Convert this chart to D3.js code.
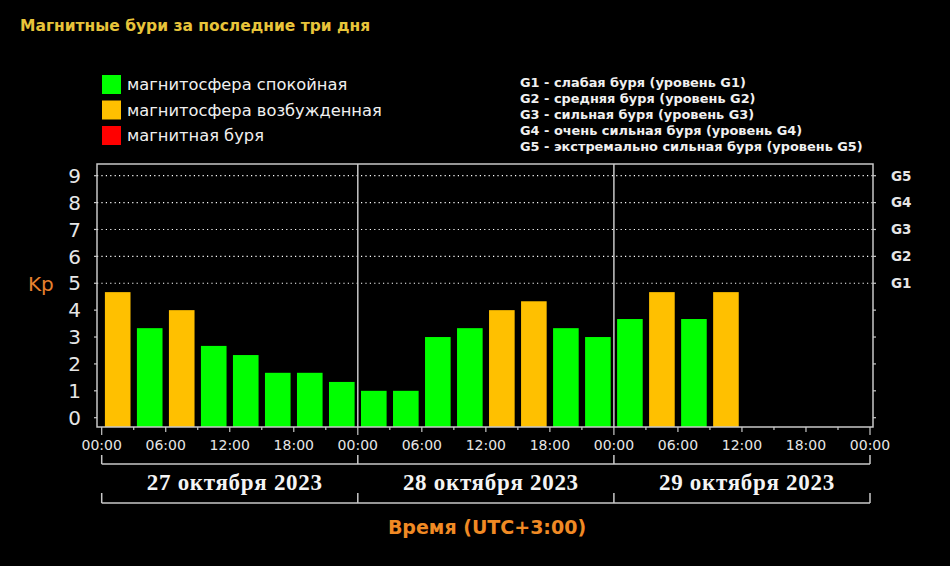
<!DOCTYPE html>
<html><head><meta charset="utf-8">
<script src="https://cdn.jsdelivr.net/npm/d3@7"></script>
<style>
html,body{margin:0;padding:0;background:#000;}
svg{display:block;}
</style></head>
<body>
<svg id="chart" width="950" height="566"></svg>
<script>
// ---- data ----
const title = "Магнитные бури за последние три дня";
const days = ["27 октября 2023", "28 октября 2023", "29 октября 2023"];
const slotHours = [0,3,6,9,12,15,18,21,24,27,30,33,36,39,42,45,48,51,54,57];
const kpValues = [4.67,3.33,4.0,2.67,2.33,1.67,1.67,1.33, 1.0,1.0,3.0,3.33,4.0,4.33,3.33,3.0, 3.67,4.67,3.67,4.67];
const yTicks = [0,1,2,3,4,5,6,7,8,9];
const gLevels = [{k:5,label:"G1"},{k:6,label:"G2"},{k:7,label:"G3"},{k:8,label:"G4"},{k:9,label:"G5"}];
const xTickLabels = ["00:00","06:00","12:00","18:00"];
const legendLeft = [
  {label:"магнитосфера спокойная", color:"#00ff00"},
  {label:"магнитосфера возбужденная", color:"#ffc000"},
  {label:"магнитная буря", color:"#ff0000"}
];
const legendRight = [
  "G1 - слабая буря (уровень G1)",
  "G2 - средняя буря (уровень G2)",
  "G3 - сильная буря (уровень G3)",
  "G4 - очень сильная буря (уровень G4)",
  "G5 - экстремально сильная буря (уровень G5)"
];
const xAxisTitle = "Время (UTC+3:00)";
const yAxisTitle = "Kp";

// ---- layout ----
const svg = d3.select("#chart");
svg.append("rect").attr("width",950).attr("height",566).attr("fill","#000");
const frame = {left:97, right:873, top:164, bottom:427};
const x = d3.scaleLinear().domain([0,72]).range([101.7,870]);
const y = d3.scaleLinear().domain([0,9]).range([417.7,175.7]);
const lineCol = "#c8c8c8";
const textCol = "#e6e6e6";
function barColor(v){ return v>=5 ? "#ff0000" : (v>=4 ? "#ffc000" : "#00ff00"); }

// title
svg.append("text").attr("x",20).attr("y",31).text(title)
  .attr("fill","#e8c43a").attr("font-family","DejaVu Sans").attr("font-weight","bold").attr("font-size",15.5);

// left legend
const lg = svg.append("g");
legendLeft.forEach((d,i)=>{
  lg.append("rect").attr("x",102).attr("y",75+i*25.5).attr("width",19).attr("height",19).attr("fill",d.color);
  lg.append("text").attr("x",127).attr("y",90+i*25.5).text(d.label)
    .attr("fill","#f0f0f0").attr("font-family","DejaVu Sans").attr("font-size",16.3);
});
// right legend
legendRight.forEach((t,i)=>{
  svg.append("text").attr("x",520).attr("y",87+i*16).text(t)
    .attr("fill","#f0f0f0").attr("font-family","DejaVu Sans").attr("font-weight","bold").attr("font-size",12.9);
});

// gridlines
svg.append("g").selectAll("line").data(gLevels).join("line")
  .attr("x1",frame.left).attr("x2",frame.right+3)
  .attr("y1",d=>y(d.k)).attr("y2",d=>y(d.k))
  .attr("stroke","#ffffff").attr("stroke-width",1.2).attr("stroke-dasharray","1.2,3.2");

// bars
svg.append("g").selectAll("rect").data(slotHours.map((h,i)=>({h,v:kpValues[i]}))).join("rect")
  .attr("x",d=>x(d.h+0.3)).attr("width",d=>x(d.h+2.7)-x(d.h+0.3))
  .attr("y",d=>y(d.v)).attr("height",d=>frame.bottom-y(d.v))
  .attr("fill",d=>barColor(d.v));

// frame
svg.append("rect").attr("x",frame.left).attr("y",frame.top)
  .attr("width",frame.right-frame.left).attr("height",frame.bottom-frame.top)
  .attr("fill","none").attr("stroke",lineCol).attr("stroke-width",1.5);
// day separators
[24,48].forEach(h=>{
  svg.append("line").attr("x1",x(h)).attr("x2",x(h)).attr("y1",frame.top).attr("y2",frame.bottom)
    .attr("stroke",lineCol).attr("stroke-width",1.5);
});

// y ticks left
svg.append("g").selectAll("line").data(yTicks).join("line")
  .attr("x1",frame.left-3).attr("x2",frame.left).attr("y1",d=>y(d)).attr("y2",d=>y(d))
  .attr("stroke",lineCol).attr("stroke-width",1.2);
// y ticks right
svg.append("g").selectAll("line").data(yTicks).join("line")
  .attr("x1",frame.right).attr("x2",frame.right+3).attr("y1",d=>y(d)).attr("y2",d=>y(d))
  .attr("stroke",lineCol).attr("stroke-width",1.2);
// y labels
svg.append("g").selectAll("text").data(yTicks).join("text")
  .attr("x",81).attr("y",d=>y(d)).attr("dy","0.36em").attr("text-anchor","end").text(d=>d)
  .attr("fill",textCol).attr("font-family","DejaVu Sans").attr("font-size",20);
// Kp
svg.append("text").attr("x",28).attr("y",291).text(yAxisTitle)
  .attr("fill","#e8812e").attr("font-family","DejaVu Sans").attr("font-size",20);
// G labels
svg.append("g").selectAll("text").data(gLevels).join("text")
  .attr("x",891).attr("y",d=>y(d.k)).attr("dy","0.36em").text(d=>d.label)
  .attr("fill",textCol).attr("font-family","DejaVu Sans").attr("font-weight","bold").attr("font-size",13.5);

// x ticks
const minor = d3.range(0,73,3);
svg.append("g").selectAll("line").data(minor).join("line")
  .attr("x1",d=>x(d)).attr("x2",d=>x(d)).attr("y1",frame.bottom)
  .attr("y2",d=> d%24===0 ? frame.bottom+8 : (d%6===0 ? frame.bottom+5 : frame.bottom+3))
  .attr("stroke",lineCol).attr("stroke-width",1.2);
// x labels
const labHours = d3.range(0,73,6);
svg.append("g").selectAll("text").data(labHours).join("text")
  .attr("x",d=>x(d)).attr("y",450).attr("text-anchor","middle")
  .text(d=>xTickLabels[(d%24)/6])
  .attr("fill",textCol).attr("font-family","DejaVu Sans").attr("font-size",14);

// brackets
[[455,464],[493,503]].forEach(([y1,y2])=>{
  svg.append("line").attr("x1",x(0)).attr("x2",x(72)).attr("y1",y2).attr("y2",y2)
    .attr("stroke",lineCol).attr("stroke-width",1.5);
  [0,24,48,72].forEach(h=>{
    svg.append("line").attr("x1",x(h)).attr("x2",x(h)).attr("y1",y1).attr("y2",y2)
      .attr("stroke",lineCol).attr("stroke-width",1.5);
  });
});
// day labels
days.forEach((d,i)=>{
  svg.append("text").attr("x",(x(i*24)+x(i*24+24))/2+5).attr("y",490).attr("text-anchor","middle").text(d)
    .attr("fill","#f4f4f4").attr("font-family","Liberation Serif").attr("font-weight","bold")
    .attr("font-size",23).attr("letter-spacing",0.7);
});
// x axis title
svg.append("text").attr("x",487).attr("y",534).attr("text-anchor","middle").text(xAxisTitle)
  .attr("fill","#f08a24").attr("font-family","DejaVu Sans").attr("font-weight","bold").attr("font-size",19);
</script>
</body></html>
